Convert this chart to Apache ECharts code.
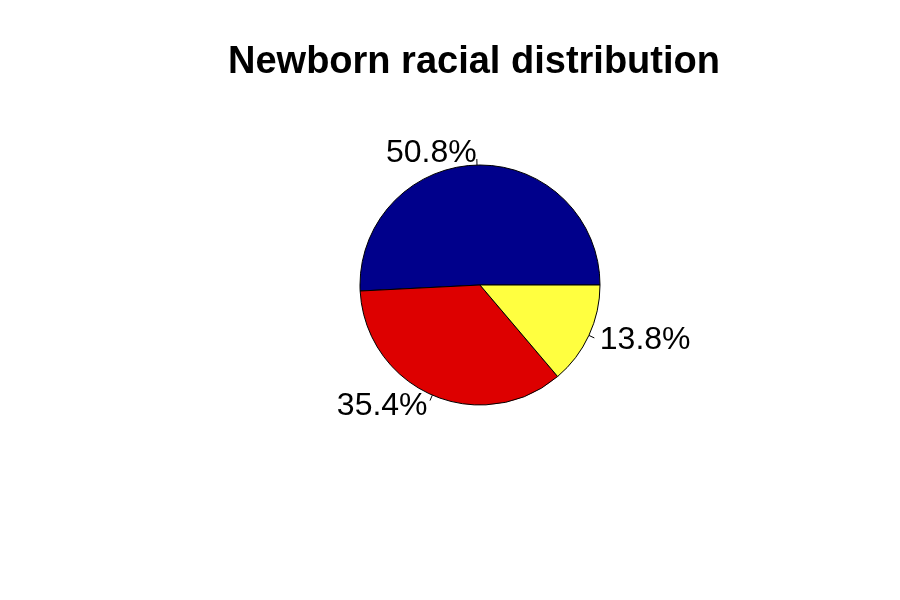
<!DOCTYPE html>
<html>
<head>
<meta charset="utf-8">
<script src="https://cdn.jsdelivr.net/npm/echarts@6/dist/echarts.min.js"></script>
<style>html,body{margin:0;padding:0;background:#fff;}#chart{width:900px;height:600px;}</style>
</head>
<body>
<div id="chart"></div>
<script>
const titleText = 'Newborn racial distribution';
const categories = ['Group 1', 'Group 2', 'Group 3'];
const values = [50.8, 35.4, 13.8];
const labels = ['50.8%', '35.4%', '13.8%'];
const colors = ['#00008B', '#DD0000', '#FFFF40'];

const chart = echarts.init(document.getElementById('chart'), null, {renderer: 'canvas'});
chart.setOption({
  backgroundColor: '#ffffff',
  animation: false,
  title: {
    text: titleText,
    left: 223,
    top: 39,
    textStyle: {fontFamily: 'Liberation Sans, Arial, sans-serif', fontWeight: 'bold', fontSize: 38, color: '#000'}
  },
  series: [{
    type: 'pie',
    center: [480, 285],
    radius: [0, 120],
    startAngle: 0,
    clockwise: false,
    data: categories.map((c, i) => ({name: c, value: values[i], itemStyle: {color: colors[i]}, label: {formatter: labels[i]}})),
    itemStyle: {borderColor: '#000', borderWidth: 1},
    label: {
      show: true,
      position: 'outside',
      distanceToLabelLine: 0,
      fontFamily: 'Liberation Sans, Arial, sans-serif',
      fontSize: 32,
      color: '#000'
    },
    labelLine: {show: true, length: 12, length2: 0, smooth: false, lineStyle: {color: '#000', width: 1}},
    labelLayout: function (p) {
      const pts = p.labelLinePoints;
      if (!pts) return {};
      const a = pts[0], b = pts[1];
      const m = [(a[0] + b[0]) / 2, (a[1] + b[1]) / 2];
      return {labelLinePoints: [a, m, m]};
    },
    emphasis: {disabled: true}
  }]
});
</script>
</body>
</html>
